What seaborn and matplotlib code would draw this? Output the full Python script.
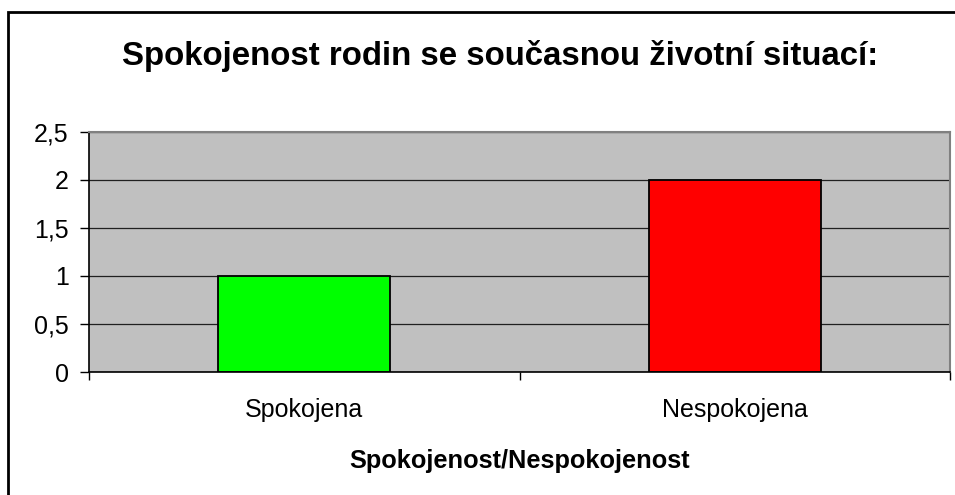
import matplotlib
matplotlib.use("Agg")
import matplotlib.pyplot as plt
import matplotlib.ticker as mticker
from matplotlib.patches import Rectangle
import seaborn as sns

# data
categories = ["Spokojena", "Nespokojena"]
values = [1, 2]
bar_colors = ["#00FF00", "#FF0000"]
y_ticks = [0, 0.5, 1, 1.5, 2, 2.5]

title = "Spokojenost rodin se současnou životní situací:"
xlabel = "Spokojenost/Nespokojenost"

sns.set_style("white")
plt.rcParams["font.family"] = ["Liberation Sans", "DejaVu Sans"]
plt.rcParams["text.color"] = "black"
plt.rcParams["xtick.color"] = "black"
plt.rcParams["ytick.color"] = "black"
plt.rcParams["axes.labelcolor"] = "black"

fig = plt.figure(figsize=(9.55, 4.95), dpi=100)
ax = fig.add_axes([89 / 955, 1 - 372 / 495, 861 / 955, 240 / 495])
ax.set_facecolor("#C0C0C0")

sns.barplot(x=categories, y=values, hue=categories, palette=bar_colors,
            width=0.4, edgecolor="black", linewidth=1.3, legend=False,
            saturation=1, ax=ax)

ax.set_xlim(-0.5, 1.5)
ax.set_ylim(0, 2.5)
ax.set_yticks(y_ticks)
ax.yaxis.set_major_formatter(mticker.FuncFormatter(
    lambda v, p: ("%g" % v).replace(".", ",")))
ax.yaxis.grid(True, color="#202020", linewidth=0.9)
ax.set_axisbelow(True)

ax.set_xticks([0, 1])
ax.set_xticklabels(categories)
ax.set_xticks([-0.5, 0.5, 1.5], minor=True)
ax.tick_params(axis="x", which="major", length=0, pad=19, labelsize=18)
ax.tick_params(axis="x", which="minor", length=6, width=1, color="black",
               direction="out", bottom=True)
ax.tick_params(axis="y", length=6.5, width=1, color="black", direction="out",
               left=True, labelsize=18, pad=8)

for s in ["left", "bottom"]:
    ax.spines[s].set_color("black")
    ax.spines[s].set_linewidth(1.2)
for s in ["top", "right"]:
    ax.spines[s].set_color("#808080")
    ax.spines[s].set_linewidth(1.5)

ax.set_xlabel(xlabel, fontsize=18.3, fontweight="bold", labelpad=19)
ax.set_ylabel("")

fig.text(500 / 955, 1 - 56 / 495, title, fontsize=23.8, fontweight="bold",
         ha="center", va="center")

# outer chart frame
fig.patches.append(Rectangle((8 / 955, -0.05), 1.1, 1 - 12 / 495 + 0.05,
                             transform=fig.transFigure, fill=False,
                             edgecolor="black", linewidth=2))

fig.savefig("out.png", dpi=100)
